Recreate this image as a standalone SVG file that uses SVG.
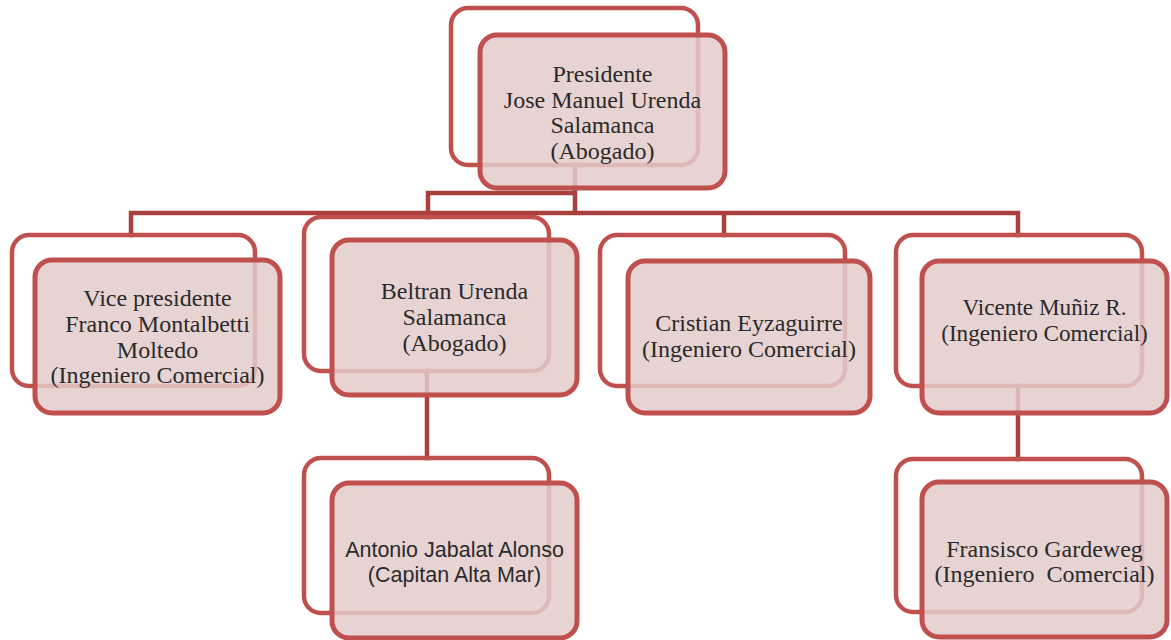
<svg xmlns="http://www.w3.org/2000/svg" width="1171" height="640" viewBox="0 0 1171 640">
<style>
.bg{fill:#ffffff}
.conn{fill:none;stroke:#a9403e;stroke-width:4.5;stroke-linecap:square}
.back{fill:none;stroke:#c0504d;stroke-width:4.5}
.front{fill:#e4cbcb;fill-opacity:0.85;stroke:#c0504d;stroke-width:5}
.t{font-family:"Liberation Serif","Times New Roman",serif;font-size:24px;fill:#2a2a2a;text-anchor:middle}
.s{font-family:"Liberation Sans",Arial,sans-serif;font-size:21.5px;fill:#2a2a2a;text-anchor:middle}
</style>
<rect class="bg" x="0" y="0" width="1171" height="640"/>
<g id="connectors">
<path class="conn" d="M575 165 V213 M428 193 H575 M428 193 V217 M131 213 H1018 M131 213 V235 M724 213 V235 M1018 213 V235"/>
<path class="conn" d="M427 371 V458 M1018 386 V459"/>
</g>
<g id="n-presidente">
<rect class="back" x="451" y="8" width="247" height="157" rx="17"/>
<rect class="front" x="480" y="35" width="245" height="153" rx="17"/>
<text class="t" x="602.5" y="82">Presidente</text>
<text class="t" x="602.5" y="107.5">Jose Manuel Urenda</text>
<text class="t" x="602.5" y="133">Salamanca</text>
<text class="t" x="602.5" y="158.5">(Abogado)</text>
</g>
<g id="n-vice">
<rect class="back" x="12" y="235" width="243" height="151" rx="17"/>
<rect class="front" x="35" y="260" width="245" height="153" rx="17"/>
<text class="t" x="157.5" y="306">Vice presidente</text>
<text class="t" x="157.5" y="332">Franco Montalbetti</text>
<text class="t" x="157.5" y="357.5">Moltedo</text>
<text class="t" x="157.5" y="383">(Ingeniero Comercial)</text>
</g>
<g id="n-beltran">
<rect class="back" x="304" y="217" width="245" height="154" rx="17"/>
<rect class="front" x="332" y="240" width="245" height="155" rx="17"/>
<text class="t" x="454.5" y="299">Beltran Urenda</text>
<text class="t" x="454.5" y="325">Salamanca</text>
<text class="t" x="454.5" y="351">(Abogado)</text>
</g>
<g id="n-cristian">
<rect class="back" x="600" y="235" width="245" height="151" rx="17"/>
<rect class="front" x="628" y="261" width="242" height="152" rx="17"/>
<text class="t" x="749" y="331">Cristian Eyzaguirre</text>
<text class="t" x="749" y="357">(Ingeniero Comercial)</text>
</g>
<g id="n-vicente">
<rect class="back" x="896" y="235" width="246" height="151" rx="17"/>
<rect class="front" x="922" y="261" width="245" height="152" rx="17"/>
<text class="t" x="1044.5" y="315" style="font-size:23.2px">Vicente Muñiz R.</text>
<text class="t" x="1044.5" y="341" style="font-size:23.2px">(Ingeniero Comercial)</text>
</g>
<g id="n-antonio">
<rect class="back" x="304" y="458" width="245" height="155" rx="17"/>
<rect class="front" x="332" y="483" width="245" height="155" rx="17"/>
<text class="s" x="454.5" y="557">Antonio Jabalat Alonso</text>
<text class="s" x="454.5" y="582">(Capitan Alta Mar)</text>
</g>
<g id="n-fransisco">
<rect class="back" x="896" y="459" width="246" height="153" rx="17"/>
<rect class="front" x="922" y="482" width="245" height="155" rx="17"/>
<text class="t" x="1044.5" y="557">Fransisco Gardeweg</text>
<text class="t" x="1044.5" y="582" xml:space="preserve" style="white-space:pre">(Ingeniero  Comercial)</text>
</g>
</svg>
